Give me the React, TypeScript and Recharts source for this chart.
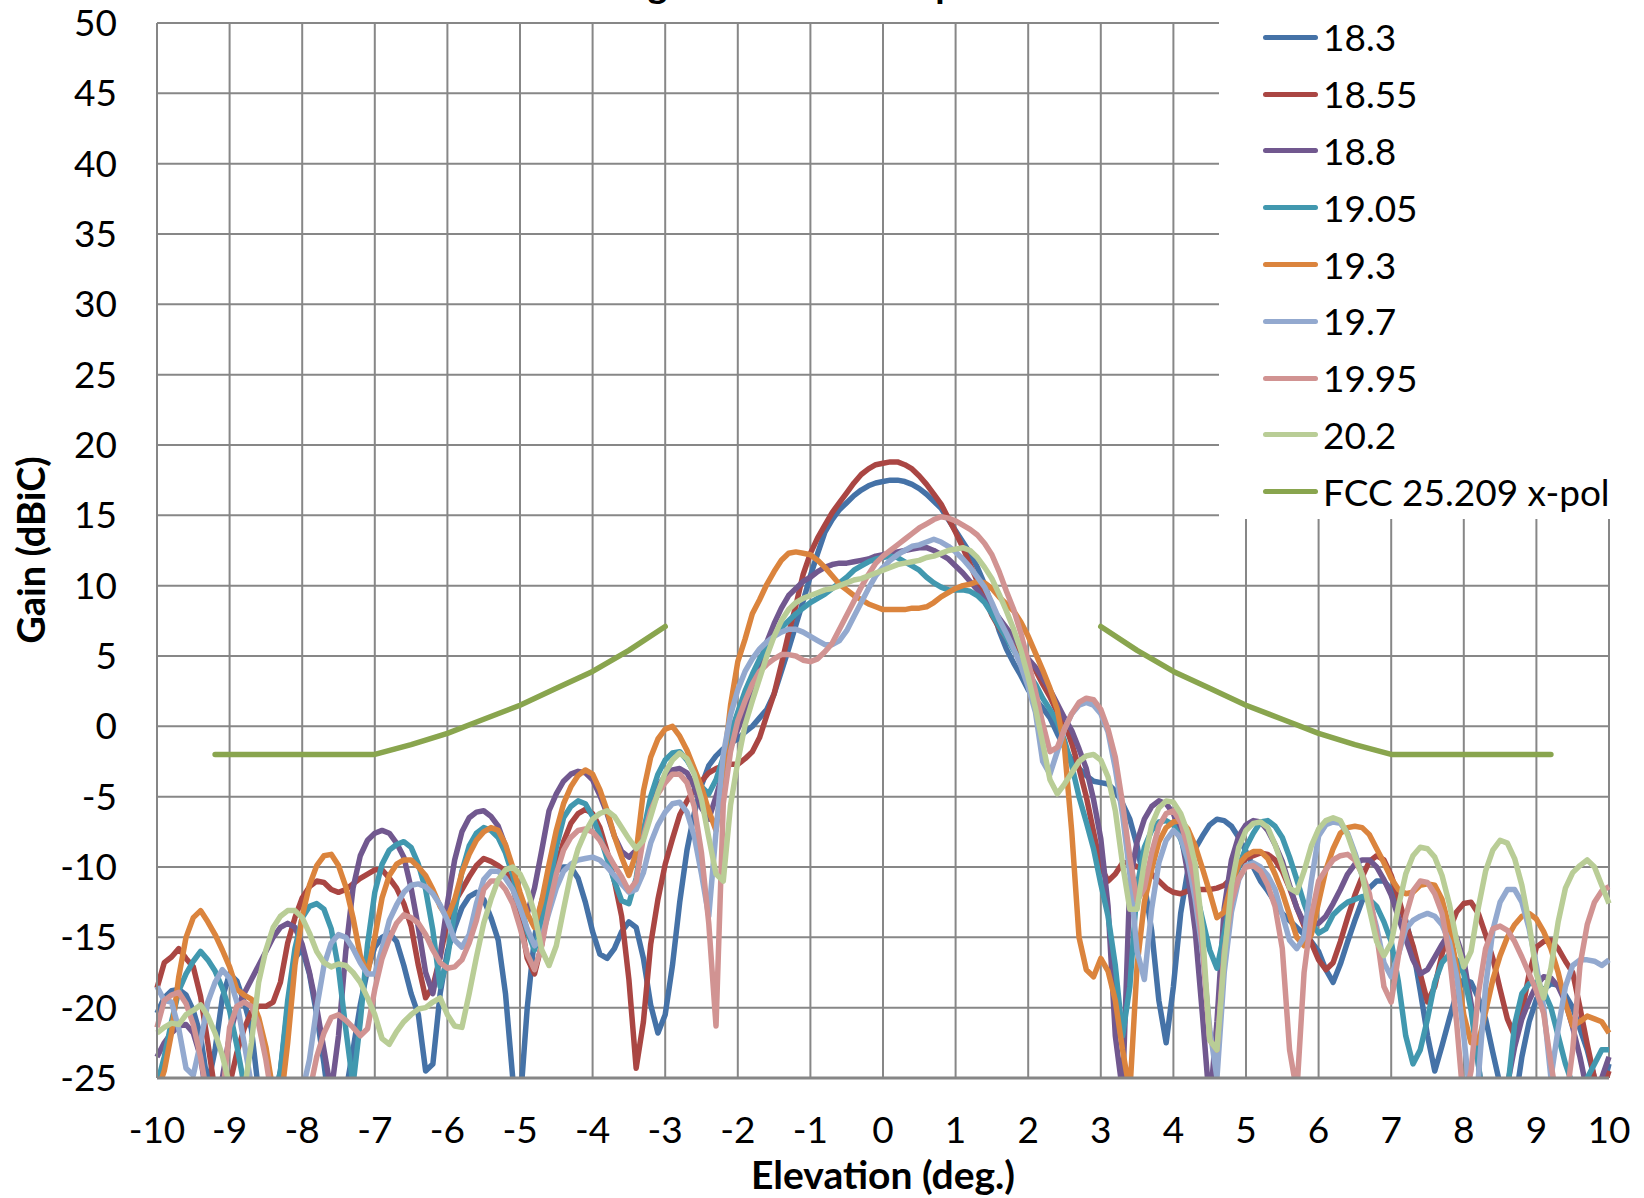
import { LineChart, Line, XAxis, YAxis, CartesianGrid } from 'recharts';

const FONT = 'Lato, "Open Sans", sans-serif';

// elevation angle (deg), 0.1 deg steps
const elevation = [
  -10.0, -9.9, -9.8, -9.7, -9.6, -9.5, -9.4, -9.3, -9.2, -9.1,
  -9.0, -8.9, -8.8, -8.7, -8.6, -8.5, -8.4, -8.3, -8.2, -8.1,
  -8.0, -7.9, -7.8, -7.7, -7.6, -7.5, -7.4, -7.3, -7.2, -7.1,
  -7.0, -6.9, -6.8, -6.7, -6.6, -6.5, -6.4, -6.3, -6.2, -6.1,
  -6.0, -5.9, -5.8, -5.7, -5.6, -5.5, -5.4, -5.3, -5.2, -5.1,
  -5.0, -4.9, -4.8, -4.7, -4.6, -4.5, -4.4, -4.3, -4.2, -4.1,
  -4.0, -3.9, -3.8, -3.7, -3.6, -3.5, -3.4, -3.3, -3.2, -3.1,
  -3.0, -2.9, -2.8, -2.7, -2.6, -2.5, -2.4, -2.3, -2.2, -2.1,
  -2.0, -1.9, -1.8, -1.7, -1.6, -1.5, -1.4, -1.3, -1.2, -1.1,
  -1.0, -0.9, -0.8, -0.7, -0.6, -0.5, -0.4, -0.3, -0.2, -0.1,
  0.0, 0.1, 0.2, 0.3, 0.4, 0.5, 0.6, 0.7, 0.8, 0.9,
  1.0, 1.1, 1.2, 1.3, 1.4, 1.5, 1.6, 1.7, 1.8, 1.9,
  2.0, 2.1, 2.2, 2.3, 2.4, 2.5, 2.6, 2.7, 2.8, 2.9,
  3.0, 3.1, 3.2, 3.3, 3.4, 3.5, 3.6, 3.7, 3.8, 3.9,
  4.0, 4.1, 4.2, 4.3, 4.4, 4.5, 4.6, 4.7, 4.8, 4.9,
  5.0, 5.1, 5.2, 5.3, 5.4, 5.5, 5.6, 5.7, 5.8, 5.9,
  6.0, 6.1, 6.2, 6.3, 6.4, 6.5, 6.6, 6.7, 6.8, 6.9,
  7.0, 7.1, 7.2, 7.3, 7.4, 7.5, 7.6, 7.7, 7.8, 7.9,
  8.0, 8.1, 8.2, 8.3, 8.4, 8.5, 8.6, 8.7, 8.8, 8.9,
  9.0, 9.1, 9.2, 9.3, 9.4, 9.5, 9.6, 9.7, 9.8, 9.9,
  10.0,
];

// gain (dBiC) per frequency
const gain183 = [
  -20.4, -19.3, -18.8, -18.7, -19.1, -20.2, -22.0, -25.5, -23.0, -19.3,
  -17.6, -18.1, -19.6, -21.5, -26, -29, -27, -24.5, -20, -16.5,
  -15.8, -17.6, -20.5, -24, -28, -29, -26, -23, -19.8, -17.3,
  -15.7, -15.0, -14.7, -15.3, -17.0, -19, -20.5, -24.5, -24, -19,
  -16.0, -14.3, -12.9, -12.1, -11.8, -12.3, -13.6, -15.2, -19, -25,
  -27, -20, -15, -12.4, -10.9, -10.3, -10.0, -10.0, -10.8, -12.5,
  -14.6, -16.2, -16.5, -15.8, -14.6, -13.9, -14.3, -16.5, -19.8, -21.8,
  -20.5, -17, -12.5, -8.8, -6.2, -4.2, -2.8, -2.1, -1.6, -1.2,
  -0.9, -0.4, 0, 0.6, 1.2, 2.3, 3.9, 5.5, 7.2, 8.9,
  10.7, 12.3, 13.8, 14.7, 15.4, 15.9, 16.4, 16.8, 17.1, 17.3,
  17.4, 17.5, 17.5, 17.4, 17.2, 16.9, 16.5, 16.0, 15.5, 14.7,
  13.9, 13.1, 12.3, 11.3, 10.1, 8.5, 6.8, 5.5, 4.5, 3.6,
  2.6, 1.9, 1.3, 0.6, -0.5, -1.5, -2.4, -3.0, -3.5, -3.9,
  -4.0, -4.1, -4.6, -5.5, -6.6, -8.5, -11.2, -14.5, -19.5, -22.5,
  -18.5, -13.3, -10.2, -8.7, -7.8, -7.0, -6.6, -6.7, -7.1, -7.9,
  -8.9, -10.0, -11.0, -11.7, -12.5, -13.3, -13.8, -14.3, -14.8, -15.3,
  -16.0, -17.3, -18.2, -16.9, -15.3, -13.8, -12.4, -11.5, -11.0, -11.0,
  -11.6, -12.7, -13.8, -15.8, -18.8, -22, -24.5, -22.7, -20.8, -19.0,
  -18.0, -18.2, -19.3, -20.8, -23.2, -25.5, -28, -27, -23.5, -21,
  -19.4, -18.7, -18.3, -18.4, -19.1, -20.0, -21.5, -23, -25, -26,
  -24,
];

const gain1855 = [
  -18.6, -16.8, -16.4, -15.8, -16.5, -17.1, -19.2, -22.5, -26, -28,
  -25.5, -23.2, -21.5, -20.3, -19.9, -19.9, -19.6, -18.2, -15.4, -13.6,
  -12.2, -11.4, -11.0, -11.1, -11.6, -11.8, -11.6, -11.2, -10.8, -10.5,
  -10.2, -10.2, -10.8, -11.5, -12.6, -14.2, -17.0, -19.3, -18.5, -16.4,
  -13.8, -12.5, -11.6, -10.7, -9.9, -9.4, -9.6, -9.9, -10.3, -11.4,
  -13.5, -16.5, -17.6, -15.5, -12.1, -10.0, -8.2, -6.9, -6.2, -5.9,
  -6.2, -7.2, -8.9, -11, -13.5, -18, -24.3, -21, -15.5, -12.3,
  -9.8, -8.0, -6.3, -5.3, -4.5, -3.9, -3.3, -3.0, -2.8, -2.7,
  -2.7, -2.3, -1.8, -0.8, 0.8, 2.3, 4.4, 6.6, 8.6, 10.8,
  12.3, 13.4, 14.3, 15.2, 15.9, 16.6, 17.3, 17.9, 18.3, 18.6,
  18.7, 18.8, 18.8, 18.6, 18.3, 17.8, 17.2, 16.5, 15.8, 14.8,
  13.8, 12.7, 11.5, 10.3, 9.2, 7.9, 7.0, 6.3, 5.7, 5.1,
  4.6, 4.0, 3.0, 2.1, 1.0, 0.2, -1.2, -3.0, -5.0, -7.5,
  -10.0, -11.0, -10.5, -9.7, -9.7, -10.0, -10.2, -10.5, -11.0, -11.5,
  -11.8, -11.9, -11.7, -11.6, -11.6, -11.6, -11.5, -11.3, -10.8, -10.0,
  -9.4, -9.2, -9.0, -9.1, -9.5, -10.3, -11.5, -12.9, -14.2, -15.4,
  -16.6, -17.3, -16.8, -15.3, -13.6, -12.0, -10.7, -9.6, -9.2, -9.5,
  -10.6, -12.2, -14.0, -15.6, -17.6, -19.6, -18.5, -16.2, -14.5, -13.2,
  -12.6, -12.5, -13.3, -14.8, -16.5, -18.7, -20.8, -22.0, -20.3, -17.6,
  -15.7, -15.3, -15.2, -15.8, -16.7, -17.5, -20.0, -22.6, -25.0, -26,
  -24.5,
];

const gain188 = [
  -23.5, -22.5, -21.8, -21.3, -21.2, -21.8, -23.5, -27, -28, -25,
  -22, -20, -19, -18, -17, -16, -15, -14.3, -14, -14.3,
  -15.5, -17.5, -20, -23, -26, -22, -16, -11.5, -9.2, -8.1,
  -7.6, -7.4, -7.6, -8.3, -9.3, -11.5, -14.3, -17.5, -19, -16.3,
  -12.6, -9.5, -7.5, -6.5, -6.1, -6.0, -6.4, -7.1, -8.5, -10.3,
  -12.2, -13.3, -11.5, -8.8, -6.0, -4.8, -3.9, -3.4, -3.2, -3.3,
  -3.8, -4.9, -6.2, -7.8, -8.9, -9.3, -8.8, -7.4, -5.6, -4.3,
  -3.5, -3.1, -3.0, -3.3, -4.3, -5.8, -6.6, -5.0, -3.2, -1.5,
  -0.2, 1.0, 2.8, 4.5, 6.0, 7.3, 8.4, 9.3, 9.8, 10.3,
  10.6, 11.0, 11.3, 11.5, 11.6, 11.6, 11.7, 11.8, 11.9, 12.1,
  12.2, 12.3, 12.4, 12.5, 12.6, 12.7, 12.7, 12.5, 12.2, 11.9,
  11.4, 10.9, 10.3, 9.7, 9.0, 8.4, 7.7, 7.0, 6.3, 5.6,
  4.8, 4.2, 3.4, 2.6, 1.6, 0.6, -0.3, -1.6, -3.0, -5.2,
  -8.0, -12.8, -22, -26, -11.0, -8.2, -6.6, -5.7, -5.3, -5.5,
  -6.2, -7.6, -10.5, -14.5, -20.5, -27, -21, -12.9, -9.5, -7.8,
  -7.0, -6.7, -6.8, -7.4, -8.4, -9.6, -11.3, -12.9, -14.0, -14.2,
  -14.0, -13.5, -12.6, -11.6, -10.5, -9.8, -9.5, -9.5, -10.0, -10.9,
  -12.0, -13.6, -15.1, -16.6, -17.6, -17.3, -16.4, -15.5, -14.7, -15.0,
  -16.6, -19.7, -24, -28, -29, -28, -25.5, -22.8, -20.8, -19.5,
  -18.4, -17.8, -17.9, -18.5, -19.6, -21.4, -23.5, -26, -27, -25,
  -23.5,
];

const gain1905 = [
  -25.5, -23.5, -21.0, -18.8, -17.6, -16.7, -16.0, -16.6, -17.4, -18.6,
  -20.2, -22.7, -25.5, -28, -29, -29, -27, -24.5, -19.5, -15.8,
  -13.6, -12.8, -12.6, -13.0, -14.4, -17.2, -21.5, -25.5, -21, -15.5,
  -11.8, -9.8, -8.8, -8.4, -8.2, -8.6, -9.8, -11.6, -14.5, -18.5,
  -16.5, -13.2, -10.3, -8.5, -7.6, -7.2, -7.4, -7.9, -9.0, -10.6,
  -12.5, -14.6, -15.9, -14.0, -11.5, -8.6, -6.5, -5.7, -5.3, -5.5,
  -6.4, -7.8, -9.4, -11.0, -12.4, -12.6, -10.8, -7.5, -5.0, -3.4,
  -2.4, -1.9, -1.8, -2.4, -3.3, -4.3, -4.8, -3.8, -2.2, -0.5,
  1.0, 2.5, 3.7, 4.8, 5.6, 6.4, 7.0, 7.5, 8.0, 8.4,
  8.8, 9.1, 9.4, 9.8, 10.2, 10.6, 11.1, 11.4, 11.7, 11.9,
  12.0, 12.1, 12.0, 11.7, 11.4, 11.1, 10.6, 10.2, 9.9, 9.7,
  9.7, 9.7, 9.6, 9.3, 8.8, 8.0, 7.1, 6.3, 5.4, 4.6,
  3.8, 3.0, 2.0, 1.2, 0.3, -1.0, -2.8, -5.0, -6.8, -8.7,
  -11.2, -13.5, -17.0, -22, -18.5, -11.4, -8.6, -7.4, -6.8, -6.7,
  -7.0, -8.0, -9.6, -11.5, -13.7, -15.9, -17.2, -14.7, -12.0, -10.0,
  -8.6, -7.6, -6.8, -6.7, -7.1, -7.9, -9.3, -10.9, -12.6, -14.0,
  -14.7, -14.4, -13.4, -12.9, -12.5, -12.3, -12.1, -12.3, -12.8, -13.9,
  -15.3, -18.2, -22, -24, -23, -20.8, -18.2, -16.8, -16.2, -16.6,
  -17.6, -20.2, -24, -28, -29, -28.5, -26, -21.2, -19, -18.3,
  -18.2, -18.8, -20.0, -22.0, -24, -25.5, -26, -25, -24, -23,
  -23,
];

const gain193 = [
  -26, -24.5, -21.8, -17.8, -15.0, -13.6, -13.1, -13.9, -14.8, -15.9,
  -17.1, -18.7, -19.1, -19.4, -20.7, -22.8, -26, -27, -22.5, -17.0,
  -13.5, -11.3, -9.9, -9.2, -9.1, -9.9, -11.4, -13.6, -16.3, -17.6,
  -15.0, -12.2, -10.6, -9.8, -9.5, -9.5, -10.0, -10.6, -11.6, -12.8,
  -13.6, -12.3, -10.4, -9.1, -8.1, -7.5, -7.2, -7.4, -8.4, -10.0,
  -11.8, -13.3, -14.3, -12.4, -9.8, -7.4, -5.5, -4.3, -3.5, -3.1,
  -3.4, -4.5, -6.0, -7.8, -9.3, -10.6, -9.0, -4.6, -2.2, -0.9,
  -0.2, 0, -0.7, -1.7, -3.0, -4.3, -6.0, -7.4, -3.0, 1.5,
  4.6, 6.2, 8.0, 9.0, 10.1, 11.0, 11.8, 12.3, 12.4, 12.3,
  12.2, 11.8, 11.3, 10.7, 10.1, 9.7, 9.3, 9.0, 8.7, 8.5,
  8.3, 8.3, 8.3, 8.3, 8.4, 8.4, 8.5, 8.8, 9.2, 9.5,
  9.8, 10.0, 10.1, 10.3, 10.2, 9.8, 9.2, 8.7, 8.2, 7.4,
  6.4, 5.2, 4.0, 2.7, 1.2, -1.5, -7.5, -15, -17.3, -17.8,
  -16.5, -17.4, -19.5, -23, -26, -17, -12.5, -10.2, -8.2, -7.2,
  -6.8, -6.7, -7.3, -8.5, -10.1, -11.8, -13.6, -13.2, -11.2, -9.8,
  -9.2, -8.9, -8.9, -9.4, -10.5, -11.8, -13.4, -15.0, -15.6, -14.8,
  -12.5, -10.2, -8.7, -7.6, -7.2, -7.1, -7.2, -7.7, -8.7, -9.7,
  -10.8, -11.6, -11.9, -11.8, -11.3, -11.2, -11.3, -12.3, -14.3, -17.1,
  -20.5, -22.5, -22.5, -20.3, -18.0, -16.3, -15.0, -14.1, -13.5, -13.3,
  -13.7, -14.6, -15.8, -17.5, -19.7, -21.3, -21.0, -20.6, -20.8, -21.0,
  -21.8,
];

const gain197 = [
  -18.5, -19.5, -19.6, -21.5, -24.3, -24.8, -22.5, -19.6, -18.2, -17.3,
  -17.9, -19.6, -22.5, -25.5, -28, -29, -29, -28, -27, -27,
  -26, -23.7, -20, -17, -15.4, -14.8, -15.0, -15.8, -16.8, -17.6,
  -17.6, -15.8, -13.8, -12.7, -11.8, -11.3, -11.2, -11.4, -11.9, -12.7,
  -13.8, -15.2, -15.7, -14.8, -12.6, -10.9, -10.3, -10.3, -10.8, -11.6,
  -12.9, -14.4, -15.6, -15.0, -13.2, -11.5, -10.3, -9.8, -9.5, -9.4,
  -9.3, -9.5, -10.0, -10.6, -11.2, -11.8, -11.6, -10.4, -8.3, -7.0,
  -6.1, -5.5, -5.4, -6.1, -7.8, -10.5, -13.5, -7.5, -2.0, 0.8,
  2.6, 3.9, 4.8, 5.5, 6.0, 6.4, 6.7, 6.9, 6.9, 6.7,
  6.4, 6.1, 5.8, 5.8, 6.1, 6.8, 7.8, 8.8, 9.8, 10.7,
  11.3, 11.8, 12.2, 12.5, 12.8, 12.9, 13.1, 13.3, 13.1, 12.8,
  12.4, 11.9, 11.3, 10.6, 9.9, 8.8, 7.6, 6.6, 5.5, 4.3,
  2.8, 1.0, -2.5, -3.4, -1.8, -0.2, 0.9, 1.5, 1.7, 1.5,
  0.9, -0.4, -3.0, -6.3, -10.5, -16, -18, -13, -9.7, -8.1,
  -7.4, -7.9, -9.5, -12.3, -16.0, -21.5, -25, -17.5, -13.2, -10.9,
  -9.9, -9.7, -10.0, -10.6, -11.6, -13.4, -15.2, -15.8, -15.0, -11.0,
  -7.8, -7.0, -6.8, -6.9, -7.6, -9.0, -10.6, -12.4, -14.3, -16.8,
  -17.8, -16.2, -14.4, -13.8, -13.5, -13.3, -13.5, -14.1, -15.3, -17.7,
  -22, -27, -25, -18.5, -14.5, -12.5, -11.6, -11.6, -12.5, -14.4,
  -17.0, -20.0, -25, -21.5, -18.5, -17.0, -16.6, -16.6, -16.7, -17.0,
  -16.6,
];

const gain1995 = [
  -21.4, -19.5, -19.1, -18.9, -19.7, -21.2, -23.5, -26.5, -28, -26.5,
  -21.4, -19.9, -19.6, -19.9, -21.2, -23.7, -27, -29, -29, -29,
  -28, -26, -23.5, -21.8, -20.7, -20.5, -20.9, -21.4, -22.0, -21.5,
  -18.7, -16.5, -15.1, -14.0, -13.4, -13.6, -14.0, -14.8, -15.9, -16.8,
  -17.2, -17.1, -16.6, -15.4, -13.8, -11.6, -11.0, -11.0, -11.6, -12.6,
  -14.3, -16.2, -17.3, -15.6, -12.8, -10.5, -8.8, -7.9, -7.4, -7.3,
  -7.5, -8.1, -9.0, -9.9, -10.7, -11.7, -11.0, -7.9, -6.0, -4.8,
  -4.0, -3.4, -3.4, -4.0, -5.7, -9.0, -14, -21.3, -5.5, -1.8,
  0.4, 1.8, 3.0, 3.9, 4.4, 4.8, 5.1, 5.1, 5.0, 4.7,
  4.6, 4.8, 5.3, 5.9, 6.9, 7.9, 8.9, 9.9, 10.8, 11.6,
  12.1, 12.5, 12.9, 13.3, 13.7, 14.1, 14.4, 14.7, 14.9, 14.8,
  14.6, 14.3, 14.0, 13.6, 13.0, 12.2, 11.0, 9.6, 8.3, 6.6,
  4.6, 2.5, 0.2, -1.8, -1.5, -0.2, 0.9, 1.7, 2.0, 1.9,
  1.2, -0.2, -2.2, -5.5, -9.3, -12.4, -11.5, -9.0, -7.1, -6.2,
  -6.0, -6.8, -8.6, -11.3, -15.5, -22.3, -23, -16, -12.5, -10.8,
  -10.0, -9.9, -10.3, -11.3, -12.8, -15.8, -23, -26, -17.5, -13.5,
  -11, -10.2, -9.5, -9.2, -9.1, -9.5, -10.5, -11.9, -14.8, -18.5,
  -19.6, -16.3, -13.5, -11.7, -11.0, -11.1, -11.9, -13.3, -16.2, -21,
  -27, -24.5, -19, -15.8, -14.4, -14.2, -14.5, -15.3, -16.4, -17.6,
  -18.8, -20.4, -24, -27, -27, -23, -17, -14.1, -12.5, -11.7,
  -11.4,
];

const gain202 = [
  -21.8, -21.4, -21.1, -21.2, -20.5, -20.2, -19.8, -20.6, -21.8, -23.4,
  -25.5, -27, -26, -22.5, -18.2, -15.9, -14.3, -13.5, -13.1, -13.1,
  -13.6, -14.7, -16.0, -16.8, -17.1, -16.9, -17.0, -17.5, -18.2, -19.3,
  -20.5, -22.2, -22.6, -21.7, -21.0, -20.5, -20.1, -20.0, -19.6, -19.3,
  -20.5, -21.3, -21.4, -19.0, -16.4, -14.0, -12.3, -10.9, -10.2, -10.0,
  -10.5, -11.6, -13.3, -15.9, -17.0, -15.6, -13.0, -10.5, -8.7, -7.5,
  -6.6, -6.2, -6.0, -6.4, -7.2, -8.0, -8.7, -8.1, -6.4, -4.7,
  -3.3, -2.4, -1.9, -2.3, -3.4, -5.2, -7.9, -10.5, -11.0, -5.6,
  -2.5, 0.1, 1.8, 3.4, 5.0, 6.4, 7.5, 8.3, 8.8, 9.1,
  9.3, 9.5, 9.7, 9.8, 10.0, 10.2, 10.4, 10.5, 10.7, 10.9,
  11.1, 11.3, 11.5, 11.6, 11.7, 11.8, 12.0, 12.1, 12.3, 12.5,
  12.6, 12.7, 12.5, 12.0, 11.3, 10.5, 9.4, 8.2, 6.9, 5.4,
  3.5, 1.3, -1.2, -3.8, -4.8, -4.1, -3.3, -2.5, -2.1, -2.0,
  -2.4, -3.6, -6.0, -9.8, -13.0, -13.0, -9.6, -7.0, -5.8, -5.3,
  -5.4, -6.2, -7.6, -9.8, -14.5, -22.3, -23, -16.5, -11.3, -8.6,
  -7.4, -6.9, -6.8, -7.2, -8.4, -9.9, -11.5, -11.8, -10.3, -8.5,
  -7.3, -6.7, -6.5, -6.7, -7.7, -9.2, -10.6, -13.0, -15.3, -16.3,
  -15.4, -12.8, -10.5, -9.2, -8.6, -8.7, -9.3, -10.6, -12.6, -15.2,
  -17.1, -16.0, -12.9, -10.3, -8.8, -8.1, -8.3, -9.4, -11.3, -14.0,
  -17.6, -19.3, -17.2, -13.9, -11.5, -10.4, -9.9, -9.5, -10.0, -11.3,
  -12.6,
];

// FCC 25.209 cross-pol mask
const fccElevation = [-9.2, -7, -6.5, -6, -5.5, -5, -4.5, -4, -3.5, -3, 0, 3, 3.5, 4, 4.5, 5, 5.5, 6, 6.5, 7, 9.2];
const fccGain = [-2, -2, -1.3, -0.5, 0.5, 1.5, 2.7, 3.9, 5.4, 7.1, null, 7.1, 5.4, 3.9, 2.7, 1.5, 0.5, -0.5, -1.3, -2, -2];

const xTicks = [-10, -9, -8, -7, -6, -5, -4, -3, -2, -1, 0, 1, 2, 3, 4, 5, 6, 7, 8, 9, 10];
const yTicks = [-25, -20, -15, -10, -5, 0, 5, 10, 15, 20, 25, 30, 35, 40, 45, 50];

const series = [
  { key: 's183', name: '18.3', color: '#4572A7', values: gain183 },
  { key: 's1855', name: '18.55', color: '#AA4643', values: gain1855 },
  { key: 's188', name: '18.8', color: '#71588F', values: gain188 },
  { key: 's1905', name: '19.05', color: '#4198AF', values: gain1905 },
  { key: 's193', name: '19.3', color: '#DB843D', values: gain193 },
  { key: 's197', name: '19.7', color: '#93A9CF', values: gain197 },
  { key: 's1995', name: '19.95', color: '#D19392', values: gain1995 },
  { key: 's202', name: '20.2', color: '#B9CD96', values: gain202 },
];
const fcc = { name: 'FCC 25.209 x-pol', color: '#89A54E' };

const data = elevation.map((x, i) => {
  const row: any = { x };
  series.forEach((s) => {
    row[s.key] = s.values[i];
  });
  return row;
});
const fccData = fccElevation.map((x, i) => ({ x, fcc: fccGain[i] }));

const legendItems = [...series.map((s) => ({ name: s.name, color: s.color })), fcc];

const tickStyle = { fill: '#000', fontSize: 37, fontFamily: FONT };
const LEGEND_TOP = 12;

const App = () => {
  return (
    <div style={{ position: 'relative', width: 1644, height: 1198, background: '#fff', overflow: 'hidden' }}>
      <style>{'body{margin:0;overflow:hidden;}'}</style>
      <LineChart width={1644} height={1198} data={data} margin={{ top: 23, right: 35, bottom: 0, left: 0 }}>
        <CartesianGrid stroke="#878787" strokeWidth={2} />
        <XAxis
          dataKey="x"
          type="number"
          domain={[-10, 10]}
          ticks={xTicks}
          interval={0}
          height={120}
          tickLine={false}
          tickSize={0}
          tickMargin={39}
          axisLine={{ stroke: '#868686', strokeWidth: 3 }}
          tick={tickStyle}
        />
        <YAxis
          type="number"
          domain={[-25, 50]}
          ticks={yTicks}
          interval={0}
          allowDataOverflow
          width={157}
          tickLine={false}
          tickSize={0}
          tickMargin={40}
          axisLine={{ stroke: '#868686', strokeWidth: 2 }}
          tick={tickStyle}
        />
        {series.map((s) => (
          <Line
            key={s.key}
            type="linear"
            dataKey={s.key}
            name={s.name}
            stroke={s.color}
            strokeWidth={5.5}
            strokeLinejoin="round"
            dot={false}
            activeDot={false}
            isAnimationActive={false}
          />
        ))}
        <Line
          data={fccData}
          type="linear"
          dataKey="fcc"
          name={fcc.name}
          stroke={fcc.color}
          strokeWidth={5.5}
          strokeLinecap="round"
          strokeLinejoin="round"
          dot={false}
          activeDot={false}
          isAnimationActive={false}
        />
      </LineChart>

      <div style={{ position: 'absolute', left: 1219, top: LEGEND_TOP, width: 425, height: 519 - LEGEND_TOP, background: '#fff' }}>
        {legendItems.map((item, i) => (
          <div
            key={item.name}
            style={{
              position: 'absolute',
              left: 0,
              top: 37.3 + 56.8 * i - 28 - LEGEND_TOP,
              height: 56,
              width: 425,
              display: 'flex',
              alignItems: 'center',
            }}
          >
            <div style={{ marginLeft: 44, width: 55, height: 5, borderRadius: 3, background: item.color }} />
            <span style={{ marginLeft: 5, fontFamily: FONT, fontSize: 37, lineHeight: '56px', color: '#000', whiteSpace: 'nowrap' }}>
              {item.name}
            </span>
          </div>
        ))}
      </div>

      <svg width={1644} height={1198} style={{ position: 'absolute', left: 0, top: 0, pointerEvents: 'none' }}>
        <text x={889} y={-2} textAnchor="middle" fontFamily={FONT} fontWeight="bold" fontSize={38} fill="#000">
          Rx 0.0 deg Azimuth Cross-pol Elevation Pattern
        </text>
        <text x={883} y={1174} textAnchor="middle" dominantBaseline="central" fontFamily={FONT} fontWeight="bold" fontSize={39} fill="#000">
          Elevation (deg.)
        </text>
        <text transform="translate(30,550) rotate(-90)" textAnchor="middle" dominantBaseline="central" fontFamily={FONT} fontWeight="bold" fontSize={38} fill="#000">
          Gain (dBiC)
        </text>
      </svg>
    </div>
  );
};

export default App;
